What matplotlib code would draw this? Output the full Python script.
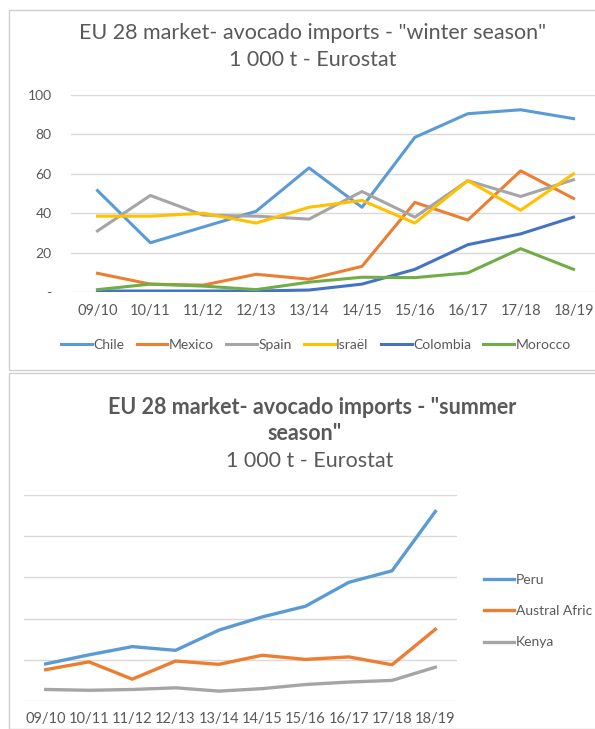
import matplotlib.pyplot as plt
from matplotlib.patches import Rectangle

plt.rcParams['font.family'] = ['Lato', 'DejaVu Sans']

seasons = ['09/10', '10/11', '11/12', '12/13', '13/14', '14/15', '15/16', '16/17', '17/18', '18/19']

# winter season, 1 000 t
chile = [51.5, 25, 33, 41, 63, 43, 78.5, 90.5, 92.5, 88]
mexico = [9.5, 4, 3.5, 9, 6.5, 13, 45.5, 36.5, 61.5, 47.5]
spain = [31, 49, 39, 38.5, 37, 51, 38, 56.5, 48.5, 57]
israel = [38.5, 38.5, 40, 35, 43, 46.5, 35, 56.5, 41.5, 60]
colombia = [0.5, 0.5, 0.5, 0.5, 1, 4, 11.5, 24, 29.5, 38]
morocco = [1.2, 4, 3, 1.2, 5, 7.5, 7.3, 9.7, 22, 11.5]

# summer season, 1 000 t
peru = [45, 56, 66, 61.5, 86, 102, 115, 144, 158, 230]
austral_africa = [38, 47.5, 26.5, 48.5, 44.5, 55.5, 50.5, 53.5, 44, 87]
kenya = [14, 13, 14, 16, 12, 15, 20, 23, 25, 41]

winter = [('Chile', chile, '#5b9bd5'), ('Mexico', mexico, '#ed7d31'),
          ('Spain', spain, '#a5a5a5'), ('Israël', israel, '#ffc000'),
          ('Colombia', colombia, '#4472c4'), ('Morocco', morocco, '#70ad47')]
summer = [('Peru', peru, '#5b9bd5'), ('Austral Afric', austral_africa, '#ed7d31'),
          ('Kenya', kenya, '#a5a5a5')]

txt = '#595959'
grid = '#d9d9d9'
W, H = 595, 729

fig = plt.figure(figsize=(W / 100, H / 100), dpi=100)


def fx(px):
    return px / W


def fy(py):
    return 1 - py / H


# chart area borders
for y0, y1 in [(10, 370), (373, 729)]:
    fig.patches.append(Rectangle((fx(9), fy(y1)), fx(W + 20), fy(y0) - fy(y1),
                                 transform=fig.transFigure, fill=False,
                                 edgecolor='#d0d0d0', linewidth=1.0))


def style(ax, ymax, step):
    ax.set_xlim(-0.5, len(seasons) - 0.5)
    ax.set_ylim(0, ymax)
    ax.set_yticks(range(0, ymax + 1, step))
    ax.yaxis.grid(True, color=grid, linewidth=1.0)
    ax.set_axisbelow(True)
    for s in ax.spines.values():
        s.set_visible(False)
    ax.tick_params(length=0, colors=txt)
    ax.set_xticks(range(len(seasons)))
    ax.set_xticklabels(seasons, fontsize=10.5, color=txt)


# winter chart
ax1 = fig.add_axes([fx(71), fy(292), fx(600) - fx(71), fy(95) - fy(292)])
style(ax1, 100, 20)
ax1.set_yticklabels(['-', '20', '40', '60', '80', '100'], fontsize=10, color=txt)
ax1.tick_params(axis='y', pad=14)
ax1.tick_params(axis='x', pad=9)
for name, vals, col in winter:
    ax1.plot(range(len(seasons)), vals, color=col, linewidth=2.2, label=name,
             solid_joinstyle='round')
ax1.legend(loc='center', bbox_to_anchor=(fx(316), fy(345)), bbox_transform=fig.transFigure,
           ncol=6, frameon=False, fontsize=10, labelcolor=txt, handlelength=2.2,
           handletextpad=0.1, columnspacing=0.9, borderaxespad=0)

fig.text(fx(313), fy(33), 'EU 28 market- avocado imports - "winter season"',
         ha='center', va='center', fontsize=15.5, color=txt)
fig.text(fx(313), fy(60), '1 000 t - Eurostat', ha='center', va='center', fontsize=15.5, color=txt)

# summer chart
ax2 = fig.add_axes([fx(24), fy(701), fx(457) - fx(24), fy(495) - fy(701)])
style(ax2, 250, 50)
ax2.set_yticklabels([])
ax2.tick_params(axis='x', pad=8)
for name, vals, col in summer:
    ax2.plot(range(len(seasons)), vals, color=col, linewidth=2.4, label=name,
             solid_joinstyle='round')
ax2.legend(loc='upper left', bbox_to_anchor=(fx(478), fy(568)), bbox_transform=fig.transFigure,
           frameon=False, fontsize=10, labelcolor=txt, handlelength=2.2,
           handletextpad=0.1, labelspacing=1.4, borderaxespad=0)

fig.text(fx(312), fy(408), 'EU 28 market- avocado imports - "summer',
         ha='center', va='center', fontsize=15.5, color=txt, fontweight='bold')
fig.text(fx(305), fy(434), 'season"', ha='center', va='center', fontsize=15.5,
         color=txt, fontweight='bold')
fig.text(fx(310), fy(461), '1 000 t - Eurostat', ha='center', va='center', fontsize=15.5, color=txt)

fig.savefig('out.png', dpi=100)
